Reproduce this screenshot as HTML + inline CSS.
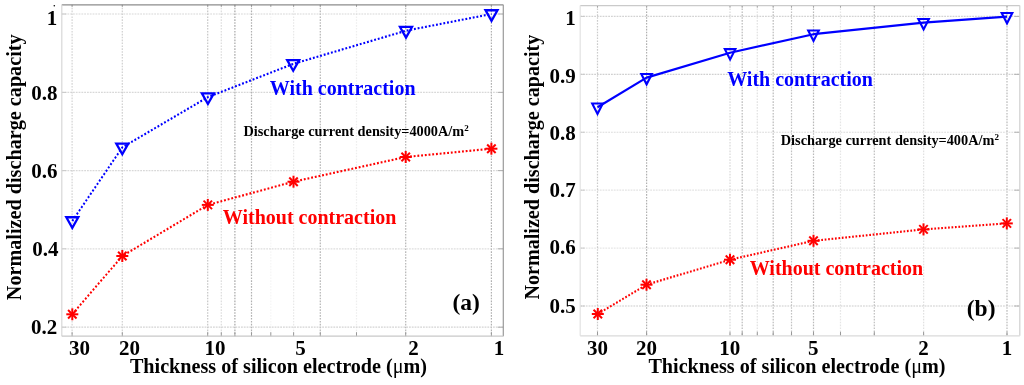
<!DOCTYPE html>
<html><head><meta charset="utf-8"><style>
html,body{margin:0;padding:0;background:#fff;}
body{width:1024px;height:385px;overflow:hidden;}
svg{display:block;will-change:transform;}
</style></head><body>
<svg width="1024" height="385" viewBox="0 0 1024 385">
<rect width="1024" height="385" fill="#fff"/>
<line x1="72.10" y1="4.8" x2="72.10" y2="336.2" stroke="#a8a8a8" stroke-opacity="0.5" stroke-width="1.2" stroke-dasharray="1.6,1.3"/>
<line x1="72.10" y1="332.2" x2="72.10" y2="336.2" stroke="#999" stroke-width="1"/>
<line x1="72.10" y1="4.8" x2="72.10" y2="6.8" stroke="#999" stroke-width="1"/>
<line x1="122.30" y1="4.8" x2="122.30" y2="336.2" stroke="#a8a8a8" stroke-opacity="0.55" stroke-width="1.2" stroke-dasharray="1.6,1.3"/>
<line x1="122.30" y1="332.2" x2="122.30" y2="336.2" stroke="#999" stroke-width="1"/>
<line x1="122.30" y1="4.8" x2="122.30" y2="6.8" stroke="#999" stroke-width="1"/>
<line x1="207.70" y1="4.8" x2="207.70" y2="336.2" stroke="#a8a8a8" stroke-opacity="0.65" stroke-width="1.2" stroke-dasharray="1.6,1.3"/>
<line x1="207.70" y1="332.2" x2="207.70" y2="336.2" stroke="#999" stroke-width="1"/>
<line x1="207.70" y1="4.8" x2="207.70" y2="6.8" stroke="#999" stroke-width="1"/>
<line x1="221.30" y1="4.8" x2="221.30" y2="336.2" stroke="#a8a8a8" stroke-opacity="0.4" stroke-width="1.2" stroke-dasharray="1.6,1.3"/>
<line x1="221.30" y1="332.2" x2="221.30" y2="336.2" stroke="#999" stroke-width="1"/>
<line x1="221.30" y1="4.8" x2="221.30" y2="6.8" stroke="#999" stroke-width="1"/>
<line x1="234.90" y1="4.8" x2="234.90" y2="336.2" stroke="#a8a8a8" stroke-opacity="1" stroke-width="1.2" stroke-dasharray="1.6,1.3"/>
<line x1="234.90" y1="332.2" x2="234.90" y2="336.2" stroke="#999" stroke-width="1"/>
<line x1="234.90" y1="4.8" x2="234.90" y2="6.8" stroke="#999" stroke-width="1"/>
<line x1="251.50" y1="4.8" x2="251.50" y2="336.2" stroke="#a8a8a8" stroke-opacity="0.9" stroke-width="1.2" stroke-dasharray="1.6,1.3"/>
<line x1="251.50" y1="332.2" x2="251.50" y2="336.2" stroke="#999" stroke-width="1"/>
<line x1="251.50" y1="4.8" x2="251.50" y2="6.8" stroke="#999" stroke-width="1"/>
<line x1="270.80" y1="4.8" x2="270.80" y2="336.2" stroke="#a8a8a8" stroke-opacity="0.12" stroke-width="1.2" stroke-dasharray="1.6,1.3"/>
<line x1="270.80" y1="332.2" x2="270.80" y2="336.2" stroke="#999" stroke-width="1"/>
<line x1="270.80" y1="4.8" x2="270.80" y2="6.8" stroke="#999" stroke-width="1"/>
<line x1="293.60" y1="4.8" x2="293.60" y2="336.2" stroke="#a8a8a8" stroke-opacity="0.25" stroke-width="1.2" stroke-dasharray="1.6,1.3"/>
<line x1="293.60" y1="332.2" x2="293.60" y2="336.2" stroke="#999" stroke-width="1"/>
<line x1="293.60" y1="4.8" x2="293.60" y2="6.8" stroke="#999" stroke-width="1"/>
<line x1="320.30" y1="4.8" x2="320.30" y2="336.2" stroke="#a8a8a8" stroke-opacity="0.85" stroke-width="1.2" stroke-dasharray="1.6,1.3"/>
<line x1="320.30" y1="332.2" x2="320.30" y2="336.2" stroke="#999" stroke-width="1"/>
<line x1="320.30" y1="4.8" x2="320.30" y2="6.8" stroke="#999" stroke-width="1"/>
<line x1="356.50" y1="4.8" x2="356.50" y2="336.2" stroke="#a8a8a8" stroke-opacity="0.2" stroke-width="1.2" stroke-dasharray="1.6,1.3"/>
<line x1="356.50" y1="332.2" x2="356.50" y2="336.2" stroke="#999" stroke-width="1"/>
<line x1="356.50" y1="4.8" x2="356.50" y2="6.8" stroke="#999" stroke-width="1"/>
<line x1="405.70" y1="4.8" x2="405.70" y2="336.2" stroke="#a8a8a8" stroke-opacity="0.85" stroke-width="1.2" stroke-dasharray="1.6,1.3"/>
<line x1="405.70" y1="332.2" x2="405.70" y2="336.2" stroke="#999" stroke-width="1"/>
<line x1="405.70" y1="4.8" x2="405.70" y2="6.8" stroke="#999" stroke-width="1"/>
<line x1="491.40" y1="4.8" x2="491.40" y2="336.2" stroke="#a8a8a8" stroke-opacity="0.9" stroke-width="1.2" stroke-dasharray="1.6,1.3"/>
<line x1="491.40" y1="332.2" x2="491.40" y2="336.2" stroke="#999" stroke-width="1"/>
<line x1="491.40" y1="4.8" x2="491.40" y2="6.8" stroke="#999" stroke-width="1"/>
<line x1="61.8" y1="327.20" x2="503.3" y2="327.20" stroke="#c8c8c8" stroke-opacity="0.8" stroke-width="1.2" stroke-dasharray="1.8,1.0"/>
<line x1="61.8" y1="327.20" x2="66.3" y2="327.20" stroke="#c8c8c8" stroke-width="1"/>
<line x1="497.8" y1="327.20" x2="503.3" y2="327.20" stroke="#b0b0b0" stroke-width="1"/>
<line x1="61.8" y1="248.80" x2="503.3" y2="248.80" stroke="#c8c8c8" stroke-opacity="0.6" stroke-width="1.2" stroke-dasharray="1.8,1.0"/>
<line x1="61.8" y1="248.80" x2="66.3" y2="248.80" stroke="#c8c8c8" stroke-width="1"/>
<line x1="497.8" y1="248.80" x2="503.3" y2="248.80" stroke="#b0b0b0" stroke-width="1"/>
<line x1="61.8" y1="170.60" x2="503.3" y2="170.60" stroke="#c8c8c8" stroke-opacity="0.7" stroke-width="1.2" stroke-dasharray="1.8,1.0"/>
<line x1="61.8" y1="170.60" x2="66.3" y2="170.60" stroke="#c8c8c8" stroke-width="1"/>
<line x1="497.8" y1="170.60" x2="503.3" y2="170.60" stroke="#b0b0b0" stroke-width="1"/>
<line x1="61.8" y1="92.40" x2="503.3" y2="92.40" stroke="#c8c8c8" stroke-opacity="0.7" stroke-width="1.2" stroke-dasharray="1.8,1.0"/>
<line x1="61.8" y1="92.40" x2="66.3" y2="92.40" stroke="#c8c8c8" stroke-width="1"/>
<line x1="497.8" y1="92.40" x2="503.3" y2="92.40" stroke="#b0b0b0" stroke-width="1"/>
<line x1="61.8" y1="14.00" x2="503.3" y2="14.00" stroke="#c8c8c8" stroke-opacity="0.7" stroke-width="1.2" stroke-dasharray="1.8,1.0"/>
<line x1="61.8" y1="14.00" x2="66.3" y2="14.00" stroke="#c8c8c8" stroke-width="1"/>
<line x1="497.8" y1="14.00" x2="503.3" y2="14.00" stroke="#b0b0b0" stroke-width="1"/>
<line x1="61.8" y1="4.8" x2="503.3" y2="4.8" stroke="#8c8c8c" stroke-width="1.3"/>
<line x1="503.3" y1="4.8" x2="503.3" y2="336.2" stroke="#9a9a9a" stroke-width="1.2"/>
<line x1="61.8" y1="4.8" x2="61.8" y2="336.2" stroke="#d8d8d8" stroke-width="1.2"/>
<line x1="61.8" y1="336.2" x2="503.3" y2="336.2" stroke="#c8c8c8" stroke-width="1.2"/>
<g transform="scale(0.903,1)"><polyline points="80.066,221.00 135.437,147.40 230.233,97.10 324.695,63.90 449.612,30.70 544.297,14.00" fill="none" stroke="#0000ff" stroke-width="2.15" stroke-dasharray="2.065,2.065" stroke-linecap="butt" stroke-linejoin="round"/></g>
<g transform="scale(0.903,1)"><polyline points="80.066,314.30 135.437,256.00 230.122,204.90 325.028,181.70 449.280,157.00 544.186,148.70" fill="none" stroke="#ff0000" stroke-width="2.15" stroke-dasharray="2.065,2.065" stroke-linecap="butt" stroke-linejoin="round"/></g>
<polygon points="66.30,217.25 78.30,217.25 72.30,227.85" fill="none" stroke="#0000ff" stroke-width="2.3" stroke-linejoin="miter"/>
<polygon points="116.30,143.65 128.30,143.65 122.30,154.25" fill="none" stroke="#0000ff" stroke-width="2.3" stroke-linejoin="miter"/>
<polygon points="201.90,93.35 213.90,93.35 207.90,103.95" fill="none" stroke="#0000ff" stroke-width="2.3" stroke-linejoin="miter"/>
<polygon points="287.20,60.15 299.20,60.15 293.20,70.75" fill="none" stroke="#0000ff" stroke-width="2.3" stroke-linejoin="miter"/>
<polygon points="400.00,26.95 412.00,26.95 406.00,37.55" fill="none" stroke="#0000ff" stroke-width="2.3" stroke-linejoin="miter"/>
<polygon points="485.50,10.25 497.50,10.25 491.50,20.85" fill="none" stroke="#0000ff" stroke-width="2.3" stroke-linejoin="miter"/>
<line x1="66.30" y1="314.30" x2="78.30" y2="314.30" stroke="#ff0000" stroke-width="2.0" stroke-linecap="butt"/>
<line x1="68.06" y1="310.06" x2="76.54" y2="318.54" stroke="#ff0000" stroke-width="2.0" stroke-linecap="butt"/>
<line x1="72.30" y1="308.30" x2="72.30" y2="320.30" stroke="#ff0000" stroke-width="2.0" stroke-linecap="butt"/>
<line x1="76.54" y1="310.06" x2="68.06" y2="318.54" stroke="#ff0000" stroke-width="2.0" stroke-linecap="butt"/>
<line x1="116.30" y1="256.00" x2="128.30" y2="256.00" stroke="#ff0000" stroke-width="2.0" stroke-linecap="butt"/>
<line x1="118.06" y1="251.76" x2="126.54" y2="260.24" stroke="#ff0000" stroke-width="2.0" stroke-linecap="butt"/>
<line x1="122.30" y1="250.00" x2="122.30" y2="262.00" stroke="#ff0000" stroke-width="2.0" stroke-linecap="butt"/>
<line x1="126.54" y1="251.76" x2="118.06" y2="260.24" stroke="#ff0000" stroke-width="2.0" stroke-linecap="butt"/>
<line x1="201.80" y1="204.90" x2="213.80" y2="204.90" stroke="#ff0000" stroke-width="2.0" stroke-linecap="butt"/>
<line x1="203.56" y1="200.66" x2="212.04" y2="209.14" stroke="#ff0000" stroke-width="2.0" stroke-linecap="butt"/>
<line x1="207.80" y1="198.90" x2="207.80" y2="210.90" stroke="#ff0000" stroke-width="2.0" stroke-linecap="butt"/>
<line x1="212.04" y1="200.66" x2="203.56" y2="209.14" stroke="#ff0000" stroke-width="2.0" stroke-linecap="butt"/>
<line x1="287.50" y1="181.70" x2="299.50" y2="181.70" stroke="#ff0000" stroke-width="2.0" stroke-linecap="butt"/>
<line x1="289.26" y1="177.46" x2="297.74" y2="185.94" stroke="#ff0000" stroke-width="2.0" stroke-linecap="butt"/>
<line x1="293.50" y1="175.70" x2="293.50" y2="187.70" stroke="#ff0000" stroke-width="2.0" stroke-linecap="butt"/>
<line x1="297.74" y1="177.46" x2="289.26" y2="185.94" stroke="#ff0000" stroke-width="2.0" stroke-linecap="butt"/>
<line x1="399.70" y1="157.00" x2="411.70" y2="157.00" stroke="#ff0000" stroke-width="2.0" stroke-linecap="butt"/>
<line x1="401.46" y1="152.76" x2="409.94" y2="161.24" stroke="#ff0000" stroke-width="2.0" stroke-linecap="butt"/>
<line x1="405.70" y1="151.00" x2="405.70" y2="163.00" stroke="#ff0000" stroke-width="2.0" stroke-linecap="butt"/>
<line x1="409.94" y1="152.76" x2="401.46" y2="161.24" stroke="#ff0000" stroke-width="2.0" stroke-linecap="butt"/>
<line x1="485.40" y1="148.70" x2="497.40" y2="148.70" stroke="#ff0000" stroke-width="2.0" stroke-linecap="butt"/>
<line x1="487.16" y1="144.46" x2="495.64" y2="152.94" stroke="#ff0000" stroke-width="2.0" stroke-linecap="butt"/>
<line x1="491.40" y1="142.70" x2="491.40" y2="154.70" stroke="#ff0000" stroke-width="2.0" stroke-linecap="butt"/>
<line x1="495.64" y1="144.46" x2="487.16" y2="152.94" stroke="#ff0000" stroke-width="2.0" stroke-linecap="butt"/>
<line x1="597.50" y1="5.6" x2="597.50" y2="335.8" stroke="#a8a8a8" stroke-opacity="0.6" stroke-width="1.2" stroke-dasharray="1.6,1.3"/>
<line x1="597.50" y1="331.8" x2="597.50" y2="335.8" stroke="#999" stroke-width="1"/>
<line x1="597.50" y1="5.6" x2="597.50" y2="7.6" stroke="#999" stroke-width="1"/>
<line x1="646.60" y1="5.6" x2="646.60" y2="335.8" stroke="#a8a8a8" stroke-opacity="0.9" stroke-width="1.2" stroke-dasharray="1.6,1.3"/>
<line x1="646.60" y1="331.8" x2="646.60" y2="335.8" stroke="#999" stroke-width="1"/>
<line x1="646.60" y1="5.6" x2="646.60" y2="7.6" stroke="#999" stroke-width="1"/>
<line x1="730.00" y1="5.6" x2="730.00" y2="335.8" stroke="#a8a8a8" stroke-opacity="0.45" stroke-width="1.2" stroke-dasharray="1.6,1.3"/>
<line x1="730.00" y1="331.8" x2="730.00" y2="335.8" stroke="#999" stroke-width="1"/>
<line x1="730.00" y1="5.6" x2="730.00" y2="7.6" stroke="#999" stroke-width="1"/>
<line x1="742.20" y1="5.6" x2="742.20" y2="335.8" stroke="#a8a8a8" stroke-opacity="0.8" stroke-width="1.2" stroke-dasharray="1.6,1.3"/>
<line x1="742.20" y1="331.8" x2="742.20" y2="335.8" stroke="#999" stroke-width="1"/>
<line x1="742.20" y1="5.6" x2="742.20" y2="7.6" stroke="#999" stroke-width="1"/>
<line x1="757.30" y1="5.6" x2="757.30" y2="335.8" stroke="#a8a8a8" stroke-opacity="0.35" stroke-width="1.2" stroke-dasharray="1.6,1.3"/>
<line x1="757.30" y1="331.8" x2="757.30" y2="335.8" stroke="#999" stroke-width="1"/>
<line x1="757.30" y1="5.6" x2="757.30" y2="7.6" stroke="#999" stroke-width="1"/>
<line x1="773.20" y1="5.6" x2="773.20" y2="335.8" stroke="#a8a8a8" stroke-opacity="0.8" stroke-width="1.2" stroke-dasharray="1.6,1.3"/>
<line x1="773.20" y1="331.8" x2="773.20" y2="335.8" stroke="#999" stroke-width="1"/>
<line x1="773.20" y1="5.6" x2="773.20" y2="7.6" stroke="#999" stroke-width="1"/>
<line x1="791.50" y1="5.6" x2="791.50" y2="335.8" stroke="#a8a8a8" stroke-opacity="0.7" stroke-width="1.2" stroke-dasharray="1.6,1.3"/>
<line x1="791.50" y1="331.8" x2="791.50" y2="335.8" stroke="#999" stroke-width="1"/>
<line x1="791.50" y1="5.6" x2="791.50" y2="7.6" stroke="#999" stroke-width="1"/>
<line x1="813.50" y1="5.6" x2="813.50" y2="335.8" stroke="#a8a8a8" stroke-opacity="0.8" stroke-width="1.2" stroke-dasharray="1.6,1.3"/>
<line x1="813.50" y1="331.8" x2="813.50" y2="335.8" stroke="#999" stroke-width="1"/>
<line x1="813.50" y1="5.6" x2="813.50" y2="7.6" stroke="#999" stroke-width="1"/>
<line x1="840.50" y1="5.6" x2="840.50" y2="335.8" stroke="#a8a8a8" stroke-opacity="0.3" stroke-width="1.2" stroke-dasharray="1.6,1.3"/>
<line x1="840.50" y1="331.8" x2="840.50" y2="335.8" stroke="#999" stroke-width="1"/>
<line x1="840.50" y1="5.6" x2="840.50" y2="7.6" stroke="#999" stroke-width="1"/>
<line x1="874.30" y1="5.6" x2="874.30" y2="335.8" stroke="#a8a8a8" stroke-opacity="0.75" stroke-width="1.2" stroke-dasharray="1.6,1.3"/>
<line x1="874.30" y1="331.8" x2="874.30" y2="335.8" stroke="#999" stroke-width="1"/>
<line x1="874.30" y1="5.6" x2="874.30" y2="7.6" stroke="#999" stroke-width="1"/>
<line x1="923.60" y1="5.6" x2="923.60" y2="335.8" stroke="#a8a8a8" stroke-opacity="0.35" stroke-width="1.2" stroke-dasharray="1.6,1.3"/>
<line x1="923.60" y1="331.8" x2="923.60" y2="335.8" stroke="#999" stroke-width="1"/>
<line x1="923.60" y1="5.6" x2="923.60" y2="7.6" stroke="#999" stroke-width="1"/>
<line x1="1007.00" y1="5.6" x2="1007.00" y2="335.8" stroke="#a8a8a8" stroke-opacity="0.8" stroke-width="1.2" stroke-dasharray="1.6,1.3"/>
<line x1="1007.00" y1="331.8" x2="1007.00" y2="335.8" stroke="#999" stroke-width="1"/>
<line x1="1007.00" y1="5.6" x2="1007.00" y2="7.6" stroke="#999" stroke-width="1"/>
<line x1="580.2" y1="306.00" x2="1019.8" y2="306.00" stroke="#c8c8c8" stroke-opacity="0.95" stroke-width="1.2" stroke-dasharray="1.8,1.0"/>
<line x1="580.2" y1="306.00" x2="584.7" y2="306.00" stroke="#c8c8c8" stroke-width="1"/>
<line x1="1014.3" y1="306.00" x2="1019.8" y2="306.00" stroke="#b0b0b0" stroke-width="1"/>
<line x1="580.2" y1="248.08" x2="1019.8" y2="248.08" stroke="#c8c8c8" stroke-opacity="0.45" stroke-width="1.2" stroke-dasharray="1.8,1.0"/>
<line x1="580.2" y1="248.08" x2="584.7" y2="248.08" stroke="#c8c8c8" stroke-width="1"/>
<line x1="1014.3" y1="248.08" x2="1019.8" y2="248.08" stroke="#b0b0b0" stroke-width="1"/>
<line x1="580.2" y1="190.16" x2="1019.8" y2="190.16" stroke="#c8c8c8" stroke-opacity="0.5" stroke-width="1.2" stroke-dasharray="1.8,1.0"/>
<line x1="580.2" y1="190.16" x2="584.7" y2="190.16" stroke="#c8c8c8" stroke-width="1"/>
<line x1="1014.3" y1="190.16" x2="1019.8" y2="190.16" stroke="#b0b0b0" stroke-width="1"/>
<line x1="580.2" y1="132.24" x2="1019.8" y2="132.24" stroke="#c8c8c8" stroke-opacity="0.65" stroke-width="1.2" stroke-dasharray="1.8,1.0"/>
<line x1="580.2" y1="132.24" x2="584.7" y2="132.24" stroke="#c8c8c8" stroke-width="1"/>
<line x1="1014.3" y1="132.24" x2="1019.8" y2="132.24" stroke="#b0b0b0" stroke-width="1"/>
<line x1="580.2" y1="74.32" x2="1019.8" y2="74.32" stroke="#c8c8c8" stroke-opacity="0.85" stroke-width="1.2" stroke-dasharray="1.8,1.0"/>
<line x1="580.2" y1="74.32" x2="584.7" y2="74.32" stroke="#c8c8c8" stroke-width="1"/>
<line x1="1014.3" y1="74.32" x2="1019.8" y2="74.32" stroke="#b0b0b0" stroke-width="1"/>
<line x1="580.2" y1="16.40" x2="1019.8" y2="16.40" stroke="#c8c8c8" stroke-opacity="0.8" stroke-width="1.2" stroke-dasharray="1.8,1.0"/>
<line x1="580.2" y1="16.40" x2="584.7" y2="16.40" stroke="#c8c8c8" stroke-width="1"/>
<line x1="1014.3" y1="16.40" x2="1019.8" y2="16.40" stroke="#b0b0b0" stroke-width="1"/>
<line x1="580.2" y1="5.6" x2="1019.8" y2="5.6" stroke="#cacaca" stroke-width="1.3"/>
<line x1="1019.8" y1="5.6" x2="1019.8" y2="335.8" stroke="#d0d0d0" stroke-width="1.2"/>
<line x1="580.2" y1="5.6" x2="580.2" y2="335.8" stroke="#e2e2e2" stroke-width="1.2"/>
<line x1="580.2" y1="335.8" x2="1019.8" y2="335.8" stroke="#dadada" stroke-width="1.2"/>
<g transform="scale(0.86,1)"><polyline points="695.116,314.00 751.744,284.70 848.837,259.70 945.930,240.80 1073.837,229.40 1170.698,223.40" fill="none" stroke="#ff0000" stroke-width="2.15" stroke-dasharray="2.000,2.000" stroke-linecap="butt" stroke-linejoin="round"/></g>
<polyline points="597.50,107.20 646.60,77.60 730.10,52.80 813.50,34.20 923.60,22.70 1007.00,16.60" fill="none" stroke="#0000ff" stroke-width="2.2" stroke-linejoin="round"/>
<polygon points="592.20,103.55 602.80,103.55 597.50,113.95" fill="none" stroke="#0000ff" stroke-width="2.1" stroke-linejoin="miter"/>
<polygon points="641.30,73.95 651.90,73.95 646.60,84.35" fill="none" stroke="#0000ff" stroke-width="2.1" stroke-linejoin="miter"/>
<polygon points="724.80,49.15 735.40,49.15 730.10,59.55" fill="none" stroke="#0000ff" stroke-width="2.1" stroke-linejoin="miter"/>
<polygon points="808.20,30.55 818.80,30.55 813.50,40.95" fill="none" stroke="#0000ff" stroke-width="2.1" stroke-linejoin="miter"/>
<polygon points="918.30,19.05 928.90,19.05 923.60,29.45" fill="none" stroke="#0000ff" stroke-width="2.1" stroke-linejoin="miter"/>
<polygon points="1001.70,12.95 1012.30,12.95 1007.00,23.35" fill="none" stroke="#0000ff" stroke-width="2.1" stroke-linejoin="miter"/>
<line x1="591.80" y1="314.00" x2="603.80" y2="314.00" stroke="#ff0000" stroke-width="2.0" stroke-linecap="butt"/>
<line x1="593.56" y1="309.76" x2="602.04" y2="318.24" stroke="#ff0000" stroke-width="2.0" stroke-linecap="butt"/>
<line x1="597.80" y1="308.00" x2="597.80" y2="320.00" stroke="#ff0000" stroke-width="2.0" stroke-linecap="butt"/>
<line x1="602.04" y1="309.76" x2="593.56" y2="318.24" stroke="#ff0000" stroke-width="2.0" stroke-linecap="butt"/>
<line x1="640.50" y1="284.70" x2="652.50" y2="284.70" stroke="#ff0000" stroke-width="2.0" stroke-linecap="butt"/>
<line x1="642.26" y1="280.46" x2="650.74" y2="288.94" stroke="#ff0000" stroke-width="2.0" stroke-linecap="butt"/>
<line x1="646.50" y1="278.70" x2="646.50" y2="290.70" stroke="#ff0000" stroke-width="2.0" stroke-linecap="butt"/>
<line x1="650.74" y1="280.46" x2="642.26" y2="288.94" stroke="#ff0000" stroke-width="2.0" stroke-linecap="butt"/>
<line x1="724.00" y1="259.70" x2="736.00" y2="259.70" stroke="#ff0000" stroke-width="2.0" stroke-linecap="butt"/>
<line x1="725.76" y1="255.46" x2="734.24" y2="263.94" stroke="#ff0000" stroke-width="2.0" stroke-linecap="butt"/>
<line x1="730.00" y1="253.70" x2="730.00" y2="265.70" stroke="#ff0000" stroke-width="2.0" stroke-linecap="butt"/>
<line x1="734.24" y1="255.46" x2="725.76" y2="263.94" stroke="#ff0000" stroke-width="2.0" stroke-linecap="butt"/>
<line x1="807.50" y1="240.80" x2="819.50" y2="240.80" stroke="#ff0000" stroke-width="2.0" stroke-linecap="butt"/>
<line x1="809.26" y1="236.56" x2="817.74" y2="245.04" stroke="#ff0000" stroke-width="2.0" stroke-linecap="butt"/>
<line x1="813.50" y1="234.80" x2="813.50" y2="246.80" stroke="#ff0000" stroke-width="2.0" stroke-linecap="butt"/>
<line x1="817.74" y1="236.56" x2="809.26" y2="245.04" stroke="#ff0000" stroke-width="2.0" stroke-linecap="butt"/>
<line x1="917.50" y1="229.40" x2="929.50" y2="229.40" stroke="#ff0000" stroke-width="2.0" stroke-linecap="butt"/>
<line x1="919.26" y1="225.16" x2="927.74" y2="233.64" stroke="#ff0000" stroke-width="2.0" stroke-linecap="butt"/>
<line x1="923.50" y1="223.40" x2="923.50" y2="235.40" stroke="#ff0000" stroke-width="2.0" stroke-linecap="butt"/>
<line x1="927.74" y1="225.16" x2="919.26" y2="233.64" stroke="#ff0000" stroke-width="2.0" stroke-linecap="butt"/>
<line x1="1000.80" y1="223.40" x2="1012.80" y2="223.40" stroke="#ff0000" stroke-width="2.0" stroke-linecap="butt"/>
<line x1="1002.56" y1="219.16" x2="1011.04" y2="227.64" stroke="#ff0000" stroke-width="2.0" stroke-linecap="butt"/>
<line x1="1006.80" y1="217.40" x2="1006.80" y2="229.40" stroke="#ff0000" stroke-width="2.0" stroke-linecap="butt"/>
<line x1="1011.04" y1="219.16" x2="1002.56" y2="227.64" stroke="#ff0000" stroke-width="2.0" stroke-linecap="butt"/>
<text x="57.2" y="25.1" font-size="21" fill="#000" text-anchor="end" style="font-family:'Liberation Serif',serif;font-weight:bold">1</text>
<text x="57.4" y="100.1" font-size="21" fill="#000" text-anchor="end" style="font-family:'Liberation Serif',serif;font-weight:bold">0.8</text>
<text x="57.4" y="178.4" font-size="21" fill="#000" text-anchor="end" style="font-family:'Liberation Serif',serif;font-weight:bold">0.6</text>
<text x="58.4" y="256.0" font-size="21" fill="#000" text-anchor="end" style="font-family:'Liberation Serif',serif;font-weight:bold">0.4</text>
<text x="57.2" y="334.1" font-size="21" fill="#000" text-anchor="end" style="font-family:'Liberation Serif',serif;font-weight:bold">0.2</text>
<text x="79.5" y="355.2" font-size="21" fill="#000" text-anchor="middle" style="font-family:'Liberation Serif',serif;font-weight:bold">30</text>
<text x="129.5" y="354.5" font-size="21" fill="#000" text-anchor="middle" style="font-family:'Liberation Serif',serif;font-weight:bold">20</text>
<text x="214.97" y="354.5" font-size="21" fill="#000" text-anchor="middle" style="font-family:'Liberation Serif',serif;font-weight:bold">10</text>
<text x="300.44" y="354.5" font-size="21" fill="#000" text-anchor="middle" style="font-family:'Liberation Serif',serif;font-weight:bold">5</text>
<text x="413.43" y="354.5" font-size="21" fill="#000" text-anchor="middle" style="font-family:'Liberation Serif',serif;font-weight:bold">2</text>
<text x="498.9" y="354.5" font-size="21" fill="#000" text-anchor="middle" style="font-family:'Liberation Serif',serif;font-weight:bold">1</text>
<text x="129.9" y="372.9" font-size="20" fill="#000" text-anchor="start" textLength="297.2" lengthAdjust="spacingAndGlyphs" style="font-family:'Liberation Serif',serif;font-weight:bold">Thickness of silicon electrode (<tspan style="font-weight:normal">μ</tspan>m)</text>
<text x="0" y="0" font-size="20" fill="#000" text-anchor="start" textLength="265.8" lengthAdjust="spacingAndGlyphs" style="font-family:'Liberation Serif',serif;font-weight:bold" transform="translate(21,300.2) rotate(-90)">Normalized discharge capacity</text>
<text x="269.8" y="94.7" font-size="20" fill="#0000ff" text-anchor="start" style="font-family:'Liberation Serif',serif;font-weight:bold">With contraction</text>
<text x="222.8" y="224.1" font-size="20" fill="#ff0000" text-anchor="start" style="font-family:'Liberation Serif',serif;font-weight:bold">Without contraction</text>
<text x="243.5" y="135.7" font-size="14.3" fill="#000" text-anchor="start" style="font-family:'Liberation Serif',serif;font-weight:bold">Discharge current density=4000A/m<tspan dy="-5" font-size="9">2</tspan></text>
<text x="452.5" y="309.8" font-size="23.5" fill="#000" text-anchor="start" style="font-family:'Liberation Serif',serif;font-weight:bold">(a)</text>
<circle cx="54.3" cy="5.8" r="0.8" fill="#000"/>
<text x="575.8" y="313.3" font-size="21" fill="#000" text-anchor="end" style="font-family:'Liberation Serif',serif;font-weight:bold">0.5</text>
<text x="575.8" y="254.4" font-size="21" fill="#000" text-anchor="end" style="font-family:'Liberation Serif',serif;font-weight:bold">0.6</text>
<text x="575.8" y="197.3" font-size="21" fill="#000" text-anchor="end" style="font-family:'Liberation Serif',serif;font-weight:bold">0.7</text>
<text x="575.8" y="140.1" font-size="21" fill="#000" text-anchor="end" style="font-family:'Liberation Serif',serif;font-weight:bold">0.8</text>
<text x="575.8" y="82.5" font-size="21" fill="#000" text-anchor="end" style="font-family:'Liberation Serif',serif;font-weight:bold">0.9</text>
<text x="575.8" y="24.9" font-size="21" fill="#000" text-anchor="end" style="font-family:'Liberation Serif',serif;font-weight:bold">1</text>
<text x="597.6" y="354.8" font-size="21" fill="#000" text-anchor="middle" style="font-family:'Liberation Serif',serif;font-weight:bold">30</text>
<text x="646.41" y="354.8" font-size="21" fill="#000" text-anchor="middle" style="font-family:'Liberation Serif',serif;font-weight:bold">20</text>
<text x="729.84" y="354.8" font-size="21" fill="#000" text-anchor="middle" style="font-family:'Liberation Serif',serif;font-weight:bold">10</text>
<text x="813.27" y="354.8" font-size="21" fill="#000" text-anchor="middle" style="font-family:'Liberation Serif',serif;font-weight:bold">5</text>
<text x="923.57" y="354.8" font-size="21" fill="#000" text-anchor="middle" style="font-family:'Liberation Serif',serif;font-weight:bold">2</text>
<text x="1007.0" y="354.8" font-size="21" fill="#000" text-anchor="middle" style="font-family:'Liberation Serif',serif;font-weight:bold">1</text>
<text x="648.4" y="372.9" font-size="20" fill="#000" text-anchor="start" textLength="297.2" lengthAdjust="spacingAndGlyphs" style="font-family:'Liberation Serif',serif;font-weight:bold">Thickness of silicon electrode (<tspan style="font-weight:normal">μ</tspan>m)</text>
<text x="0" y="0" font-size="20" fill="#000" text-anchor="start" textLength="264.9" lengthAdjust="spacingAndGlyphs" style="font-family:'Liberation Serif',serif;font-weight:bold" transform="translate(539.2,299.6) rotate(-90)">Normalized discharge capacity</text>
<text x="727.2" y="86.1" font-size="20" fill="#0000ff" text-anchor="start" style="font-family:'Liberation Serif',serif;font-weight:bold">With contraction</text>
<text x="749.7" y="275.4" font-size="20" fill="#ff0000" text-anchor="start" style="font-family:'Liberation Serif',serif;font-weight:bold">Without contraction</text>
<text x="780.8" y="145.2" font-size="14.3" fill="#000" text-anchor="start" style="font-family:'Liberation Serif',serif;font-weight:bold">Discharge current density=400A/m<tspan dy="-5" font-size="9">2</tspan></text>
<text x="966.8" y="315.6" font-size="23.5" fill="#000" text-anchor="start" style="font-family:'Liberation Serif',serif;font-weight:bold">(b)</text>
</svg>
</body></html>
